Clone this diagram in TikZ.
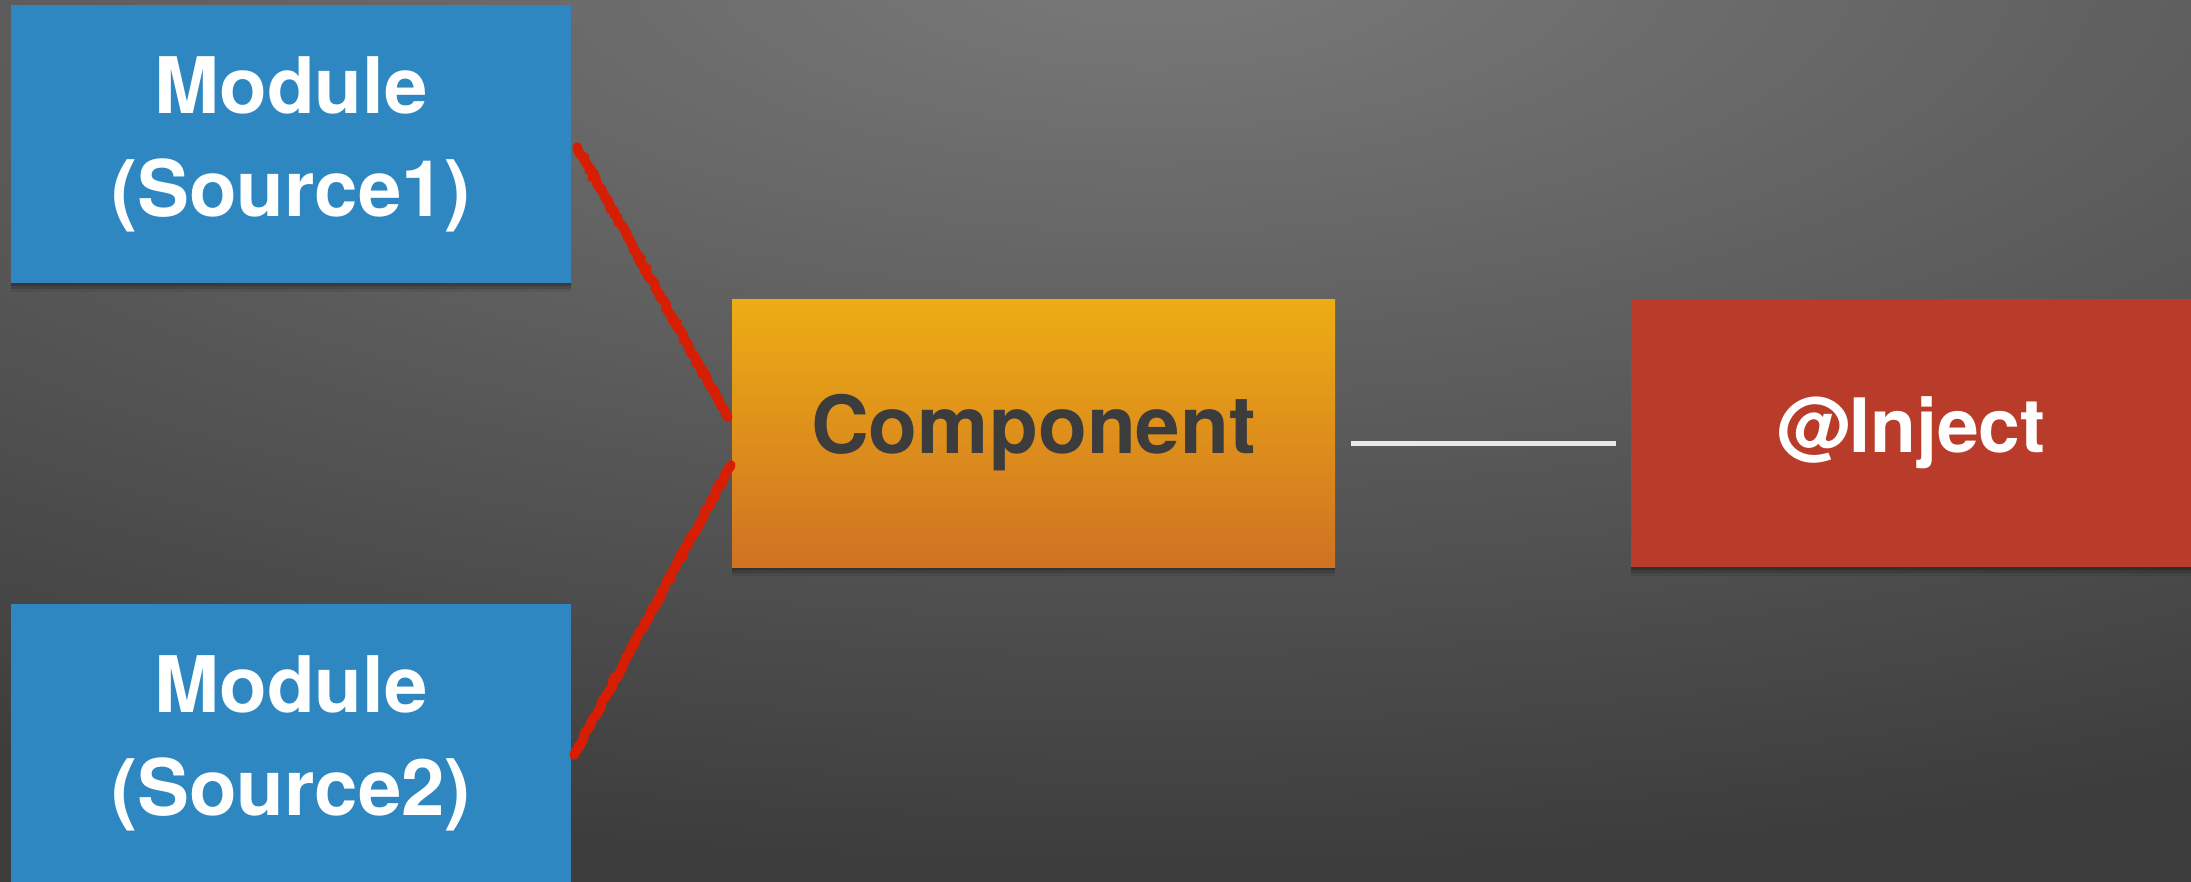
\documentclass[tikz,border=0pt]{standalone}
\usepackage{fontspec}
\setmainfont{TeX Gyre Heros}
\usetikzlibrary{shadows,decorations.pathmorphing}

\definecolor{bglight}{HTML}{7A7A7A}
\definecolor{bgdark}{HTML}{3C3C3C}
\definecolor{modblue}{HTML}{2F87C1}
\definecolor{comptop}{HTML}{EDAD13}
\definecolor{compbot}{HTML}{CF7223}
\definecolor{compink}{HTML}{3C3C3C}
\definecolor{injred}{HTML}{B93C2A}
\definecolor{wireRed}{HTML}{D81E02}
\definecolor{wireWhite}{HTML}{E8E8E8}

% the path's box maps to the inner 50bp square, so 25bp is its inscribed ellipse
\pgfdeclareradialshading{bgglow}{\pgfpoint{0bp}{0bp}}{%
  color(0bp)=(bglight); color(23bp)=(bgdark); color(50bp)=(bgdark)}

\tikzset{
  box/.style={rectangle, inner sep=0pt, draw=none,
    general shadow={shadow xshift=0pt, shadow yshift=-3pt, opacity=0.18, fill=black},
    general shadow={shadow xshift=0pt, shadow yshift=-6pt, opacity=0.14, fill=black},
    general shadow={shadow xshift=0pt, shadow yshift=-9pt, opacity=0.08, fill=black}},
  modulebox/.style={box, fill=modblue, minimum width=560pt, minimum height=278pt,
    text=white, font=\fontsize{78}{103}\selectfont\bfseries, align=center},
  compbox/.style={box, top color=comptop, bottom color=compbot,
    minimum width=603pt, minimum height=268pt,
    text=compink, font=\fontsize{80}{100}\selectfont\bfseries},
  injbox/.style={box, fill=injred, minimum width=560pt, minimum height=268pt,
    text=white, font=\fontsize{75}{95}\selectfont\bfseries},
  crayon/.style={draw=wireRed, line width=9.5pt, line cap=round,
    decorate, decoration={random steps, segment length=3pt, amplitude=1.2pt}},
  plainwire/.style={draw=wireWhite, line width=5pt},
}

\begin{document}
\begin{tikzpicture}[x=1pt, y=-1pt]
  \useasboundingbox (0,0) rectangle (2191,881);
  \begin{scope}
    \clip (0,0) rectangle (2191,881);
    % dark backdrop, brighter towards the top middle
    \shade[shading=bgglow] (-1450,-1040) rectangle (3750,960);

    % boxes
    \node[modulebox] (m1) at (291,144) {Module\\(Source1)};
    \node[modulebox] (m2) at (291,743) {Module\\(Source2)};
    \node[compbox] (comp) at (1033.5,433) {Component};
    \node[injbox] (inj) at (1911,433) {@Inject};

    % connectors
    \draw[crayon] ([xshift=6pt,yshift=-3pt]m1.east) -- ([xshift=-4pt,yshift=16pt]comp.west);
    \draw[crayon] ([xshift=-1pt,yshift=-32pt]comp.west) -- ([xshift=3pt,yshift=-12pt]m2.east);
    \draw[plainwire] ([xshift=16pt,yshift=-10pt]comp.east) -- ([xshift=-15pt,yshift=-10pt]inj.west);
  \end{scope}
\end{tikzpicture}
\end{document}
